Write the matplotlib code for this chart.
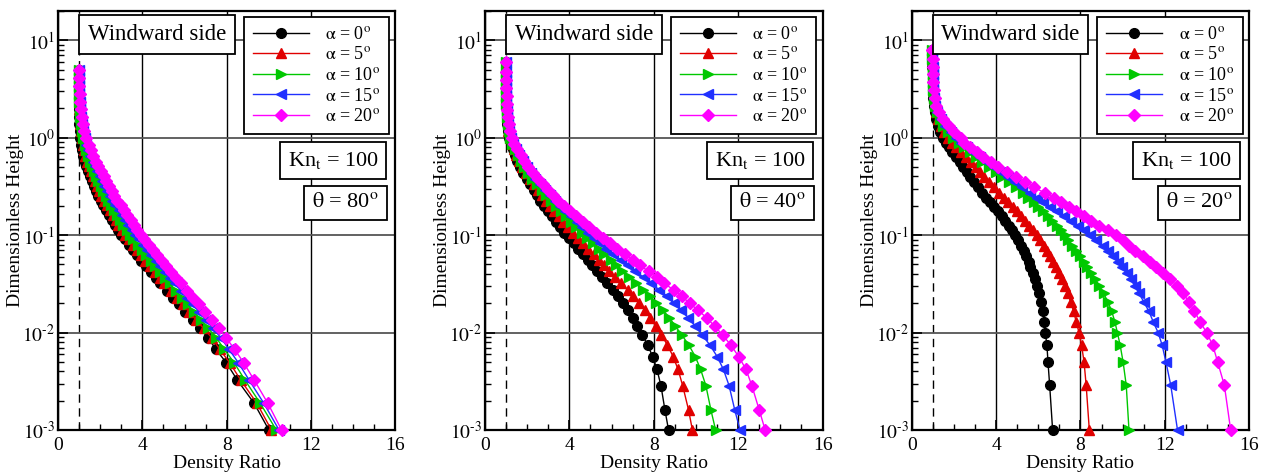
import numpy as np
import matplotlib
matplotlib.use("Agg")
import matplotlib.pyplot as plt
from matplotlib.ticker import MultipleLocator, LogLocator, NullFormatter, FuncFormatter

plt.rcParams['font.family'] = ['Liberation Serif', 'DejaVu Serif']
plt.rcParams['mathtext.fontset'] = 'stix'

# ---- theta = 80 deg ----
h80 = [0.001, 0.00188, 0.00326, 0.00491, 0.00671, 0.00885, 0.01104, 0.01343, 0.01622, 0.01945,
       0.02275, 0.02685, 0.03192, 0.03648, 0.04207, 0.04775, 0.05458, 0.06237, 0.07015, 0.07962,
       0.09036, 0.1007, 0.1135, 0.1274, 0.1429, 0.1603, 0.1799, 0.2018, 0.2265, 0.2541,
       0.2851, 0.3199, 0.3589, 0.4027, 0.4519, 0.5070, 0.5689, 0.6457, 0.7413, 0.8511,
       1.0, 1.175, 1.380, 1.622, 1.950, 2.344, 2.818, 3.388, 4.074, 4.898]
r80_a0 = [10.0, 9.3, 8.5, 7.98, 7.49, 7.12, 6.72, 6.38, 6.04, 5.72,
          5.44, 5.15, 4.86, 4.63, 4.39, 4.17, 3.95, 3.73, 3.54, 3.35,
          3.16, 3.0, 2.84, 2.69, 2.55, 2.41, 2.28, 2.15, 2.03, 1.91,
          1.8, 1.7, 1.6, 1.51, 1.43, 1.35, 1.28, 1.21, 1.15, 1.1,
          1.06, 1.03, 1.02, 1.01, 1.0, 1.0, 0.99, 0.99, 0.98, 0.98]
r80_a5 = [10.12, 9.43, 8.66, 8.14, 7.67, 7.29, 6.9, 6.56, 6.23, 5.91,
          5.63, 5.34, 5.05, 4.82, 4.58, 4.36, 4.14, 3.92, 3.73, 3.54,
          3.35, 3.19, 3.03, 2.87, 2.73, 2.59, 2.45, 2.31, 2.19, 2.06,
          1.95, 1.84, 1.74, 1.64, 1.55, 1.46, 1.38, 1.3, 1.23, 1.17,
          1.12, 1.07, 1.05, 1.03, 1.02, 1.01, 1.0, 0.99, 0.99, 0.98]
r80_a10 = [10.35, 9.59, 8.86, 8.35, 7.89, 7.5, 7.13, 6.79, 6.46, 6.15,
           5.87, 5.59, 5.3, 5.07, 4.83, 4.61, 4.39, 4.17, 3.97, 3.78,
           3.58, 3.42, 3.26, 3.1, 2.96, 2.81, 2.66, 2.52, 2.39, 2.26,
           2.14, 2.02, 1.91, 1.8, 1.7, 1.6, 1.51, 1.42, 1.33, 1.26,
           1.19, 1.13, 1.09, 1.06, 1.04, 1.02, 1.01, 1.0, 0.99, 0.99]
r80_a15 = [10.48, 9.76, 9.06, 8.55, 8.11, 7.72, 7.35, 7.02, 6.7, 6.39,
           6.11, 5.83, 5.54, 5.31, 5.07, 4.85, 4.63, 4.41, 4.21, 4.02,
           3.82, 3.65, 3.49, 3.33, 3.18, 3.03, 2.88, 2.72, 2.58, 2.45,
           2.33, 2.2, 2.08, 1.97, 1.85, 1.74, 1.64, 1.54, 1.44, 1.35,
           1.26, 1.18, 1.13, 1.09, 1.06, 1.04, 1.02, 1.01, 1.0, 0.99]
r80_a20 = [10.6, 9.95, 9.3, 8.8, 8.38, 7.97, 7.62, 7.3, 6.98, 6.67,
           6.4, 6.12, 5.83, 5.6, 5.36, 5.14, 4.92, 4.7, 4.5, 4.3,
           4.1, 3.93, 3.77, 3.6, 3.45, 3.29, 3.13, 2.97, 2.82, 2.68,
           2.55, 2.42, 2.29, 2.16, 2.03, 1.9, 1.79, 1.68, 1.56, 1.45,
           1.34, 1.25, 1.18, 1.12, 1.08, 1.05, 1.03, 1.02, 1.01, 1.0]

# ---- theta = 40 deg ----
h40 = [0.001, 0.0016, 0.00285, 0.00419, 0.00565, 0.00745, 0.00942, 0.01167, 0.01419, 0.01702,
       0.01991, 0.02366, 0.02729, 0.03192, 0.03681, 0.04236, 0.04887, 0.05546, 0.06383, 0.07178,
       0.08222, 0.09397, 0.1064, 0.1216, 0.1380, 0.1567, 0.1778, 0.2000, 0.2249, 0.2553,
       0.2897, 0.3334, 0.380, 0.437, 0.501, 0.575, 0.661, 0.759, 0.871, 1.0,
       1.175, 1.380, 1.622, 1.905, 2.239, 2.692, 3.236, 3.890, 4.677, 6.026]
r40_a0 = [8.70, 8.53, 8.34, 8.15, 7.95, 7.71, 7.46, 7.22, 7.00, 6.76,
          6.52, 6.29, 6.05, 5.78, 5.53, 5.30, 5.08, 4.86, 4.63, 4.42,
          4.20, 3.98, 3.76, 3.55, 3.35, 3.16, 2.98, 2.80, 2.63, 2.47,
          2.30, 2.14, 1.98, 1.82, 1.67, 1.53, 1.41, 1.31, 1.22, 1.15,
          1.10, 1.06, 1.04, 1.02, 1.01, 1.0, 1.0, 0.99, 0.99, 0.98]
r40_a5 = [9.83, 9.65, 9.37, 9.15, 8.92, 8.65, 8.36, 8.09, 7.84, 7.57,
          7.29, 7.03, 6.76, 6.45, 6.16, 5.90, 5.64, 5.40, 5.15, 4.90,
          4.66, 4.42, 4.18, 3.95, 3.72, 3.50, 3.28, 3.07, 2.87, 2.68,
          2.49, 2.30, 2.12, 1.94, 1.77, 1.62, 1.49, 1.37, 1.26, 1.17,
          1.11, 1.07, 1.05, 1.02, 1.01, 1.0, 1.0, 0.99, 0.99, 0.98]
r40_a10 = [10.93, 10.71, 10.47, 10.22, 9.97, 9.66, 9.33, 9.02, 8.74, 8.43,
           8.12, 7.82, 7.51, 7.17, 6.84, 6.50, 6.19, 5.95, 5.66, 5.38,
           5.10, 4.84, 4.58, 4.32, 4.07, 3.82, 3.58, 3.35, 3.12, 2.90,
           2.68, 2.46, 2.25, 2.05, 1.87, 1.70, 1.55, 1.42, 1.29, 1.19,
           1.13, 1.08, 1.05, 1.03, 1.01, 1.0, 1.0, 0.99, 0.99, 0.98]
r40_a15 = [12.09, 11.84, 11.57, 11.30, 11.01, 10.66, 10.30, 9.96, 9.64, 9.29,
           8.95, 8.62, 8.27, 7.88, 7.52, 7.13, 6.79, 6.43, 6.08, 5.75,
           5.44, 5.17, 4.88, 4.60, 4.34, 4.06, 3.80, 3.54, 3.30, 3.06,
           2.83, 2.60, 2.38, 2.17, 1.97, 1.79, 1.63, 1.48, 1.33, 1.22,
           1.14, 1.09, 1.06, 1.03, 1.01, 1.0, 1.0, 0.99, 0.99, 0.98]
r40_a20 = [13.28, 13.0, 12.65, 12.37, 12.03, 11.65, 11.27, 10.88, 10.5, 10.1,
           9.7, 9.33, 8.95, 8.5, 8.14, 7.75, 7.37, 7.0, 6.63, 6.27,
           5.93, 5.58, 5.27, 4.95, 4.64, 4.33, 4.04, 3.76, 3.48, 3.21,
           2.98, 2.75, 2.52, 2.28, 2.06, 1.87, 1.70, 1.54, 1.39, 1.28,
           1.19, 1.13, 1.08, 1.05, 1.03, 1.02, 1.01, 1.0, 1.0, 0.99]

# ---- theta = 20 deg ----
h20 = [0.001, 0.00288, 0.00501, 0.00745, 0.0100, 0.0129, 0.0166, 0.0207, 0.0252, 0.0300,
       0.0354, 0.0405, 0.0466, 0.0532, 0.0610, 0.0690, 0.0778, 0.0889, 0.100, 0.1125,
       0.1247, 0.1403, 0.1567, 0.1762, 0.1954, 0.2178, 0.2432, 0.2716, 0.3083, 0.3524,
       0.398, 0.447, 0.501, 0.562, 0.631, 0.708, 0.794, 0.891, 1.0, 1.148,
       1.318, 1.549, 1.820, 2.138, 2.570, 3.090, 3.715, 4.467, 5.370, 6.457, 7.943]
r20_a0 = [6.68, 6.54, 6.46, 6.41, 6.33, 6.29, 6.21, 6.15, 6.02, 5.94,
          5.83, 5.73, 5.62, 5.54, 5.43, 5.31, 5.20, 5.04, 4.91, 4.75,
          4.60, 4.44, 4.28, 4.09, 3.92, 3.73, 3.52, 3.32, 3.14, 2.94,
          2.76, 2.60, 2.44, 2.27, 2.10, 1.93, 1.77, 1.62, 1.48, 1.35,
          1.25, 1.17, 1.11, 1.06, 1.03, 1.01, 1.00, 0.99, 0.98, 0.97, 0.96]
r20_a5 = [8.42, 8.27, 8.17, 8.05, 7.93, 7.80, 7.67, 7.53, 7.40, 7.27,
          7.13, 7.00, 6.86, 6.72, 6.57, 6.42, 6.27, 6.08, 5.92, 5.74,
          5.57, 5.39, 5.20, 4.99, 4.80, 4.58, 4.36, 4.13, 3.88, 3.65,
          3.45, 3.25, 3.05, 2.82, 2.58, 2.35, 2.12, 1.92, 1.74, 1.54,
          1.38, 1.25, 1.15, 1.09, 1.05, 1.03, 1.01, 1.0, 0.99, 0.98, 0.97]
r20_a10 = [10.3, 10.17, 10.02, 9.88, 9.75, 9.63, 9.48, 9.3, 9.1, 8.9,
           8.7, 8.52, 8.33, 8.15, 7.97, 7.79, 7.62, 7.43, 7.25, 7.07,
           6.88, 6.66, 6.45, 6.22, 6.0, 5.78, 5.52, 5.27, 4.95, 4.62,
           4.3, 3.98, 3.65, 3.35, 3.05, 2.76, 2.48, 2.22, 1.98, 1.72,
           1.5, 1.32, 1.19, 1.1, 1.05, 1.03, 1.01, 1.0, 0.99, 0.98, 0.97]
r20_a15 = [12.6, 12.28, 12.05, 11.87, 11.68, 11.45, 11.24, 11.0, 10.78, 10.58,
           10.38, 10.2, 9.98, 9.76, 9.55, 9.3, 9.05, 8.75, 8.45, 8.15,
           7.88, 7.55, 7.22, 6.88, 6.56, 6.24, 5.92, 5.6, 5.25, 4.88,
           4.55, 4.22, 3.9, 3.57, 3.24, 2.92, 2.62, 2.36, 2.12, 1.85,
           1.6, 1.38, 1.22, 1.12, 1.06, 1.03, 1.01, 1.0, 0.99, 0.98, 0.97]
r20_a20 = [15.12, 14.82, 14.5, 14.27, 13.98, 13.67, 13.4, 13.14, 12.87, 12.59,
           12.24, 11.92, 11.6, 11.3, 10.95, 10.6, 10.3, 10.0, 9.68, 9.3,
           8.9, 8.5, 8.15, 7.78, 7.45, 7.1, 6.74, 6.3, 5.82, 5.38,
           4.93, 4.5, 4.1, 3.75, 3.4, 3.08, 2.78, 2.5, 2.33, 2.0,
           1.75, 1.5, 1.3, 1.17, 1.09, 1.05, 1.02, 1.01, 1.0, 0.99, 0.98]

alphas = [0, 5, 10, 15, 20]
thetas = [80, 40, 20]
heights = [h80, h40, h20]
ratios = [[r80_a0, r80_a5, r80_a10, r80_a15, r80_a20],
          [r40_a0, r40_a5, r40_a10, r40_a15, r40_a20],
          [r20_a0, r20_a5, r20_a10, r20_a15, r20_a20]]

colors = ['black', '#e00000', '#00c800', '#2030ff', '#ff00ff']
markers = ['o', '^', '>', '<', 'D']
msizes = [7, 6.5, 6.5, 6.5, 6]


def decade_label(v, pos):
    e = int(round(np.log10(v)))
    if e < 0:
        return r'$10^{\text{-}%d}$' % (-e)
    return r'$10^{%d}$' % e


fig = plt.figure(figsize=(12.68, 4.73), dpi=100)
lefts = [0.0457, 0.3825, 0.719]

for k in range(3):
    ax = fig.add_axes([lefts[k], 0.0909, 0.2662, 0.886])
    ax.set_yscale('log')
    ax.set_xlim(0, 16)
    ax.set_ylim(1e-3, 20)

    ax.xaxis.grid(True, which='major', color='black', lw=1.0)
    ax.yaxis.grid(True, which='major', color='#555555', lw=1.3)
    ax.axvline(1.0, color='black', lw=1.0, ls=(0, (6, 4)), zorder=1)

    for j in range(5):
        ax.plot(ratios[k][j], heights[k], color=colors[j], lw=1.0,
                marker=markers[j], ms=msizes[j], mec=colors[j], mfc=colors[j],
                clip_on=False, zorder=3 + j,
                label=r'$\mathrm{\alpha}$ = %d$^{\rm o}$' % alphas[j])

    ax.xaxis.set_major_locator(MultipleLocator(4))
    ax.xaxis.set_minor_locator(MultipleLocator(1))
    ax.yaxis.set_major_locator(LogLocator(base=10, numticks=10))
    ax.yaxis.set_major_formatter(FuncFormatter(decade_label))
    ax.yaxis.set_minor_locator(LogLocator(base=10, subs=np.arange(2, 10), numticks=20))
    ax.yaxis.set_minor_formatter(NullFormatter())
    ax.tick_params(which='major', direction='in', length=7, width=1.2, labelsize=14,
                   top=False, right=False)
    ax.tick_params(axis='x', which='major', pad=5)
    ax.tick_params(axis='y', which='major', pad=2)
    ax.tick_params(which='minor', direction='in', length=4, width=1.0,
                   top=False, right=False)
    for s in ax.spines.values():
        s.set_linewidth(1.6)

    ax.set_xlabel('Density Ratio', fontsize=14, labelpad=1)
    ax.set_ylabel('Dimensionless Height', fontsize=14)
    ax.yaxis.set_label_coords(-0.1, 0.5)

    box = dict(boxstyle='square,pad=0.38', fc='white', ec='black', lw=1.3)
    ax.text(0.293, 0.944, 'Windward side', transform=ax.transAxes, fontsize=16.5,
            ha='center', va='center', bbox=box, zorder=10)
    box = dict(boxstyle='square,pad=0.35', fc='white', ec='black', lw=1.3)
    ax.text(0.815, 0.643, r'Kn$_{\rm t}$ = 100', transform=ax.transAxes, fontsize=16,
            ha='center', va='center', bbox=box, zorder=10)
    ax.text(0.852, 0.542, r'$\mathrm{\theta}$ = %d$^{\rm o}$' % thetas[k],
            transform=ax.transAxes, fontsize=16, ha='center', va='center',
            bbox=box, zorder=10)

    leg = ax.legend(loc='upper right', bbox_to_anchor=(0.981, 0.986), borderaxespad=0,
                    fontsize=13, numpoints=1, handlelength=3.1, handletextpad=0.9,
                    labelspacing=0.2, fancybox=False, framealpha=1, edgecolor='black',
                    borderpad=0.5)
    leg.get_frame().set_linewidth(1.3)
    leg.set_zorder(10)

fig.savefig('out.png', dpi=100)
